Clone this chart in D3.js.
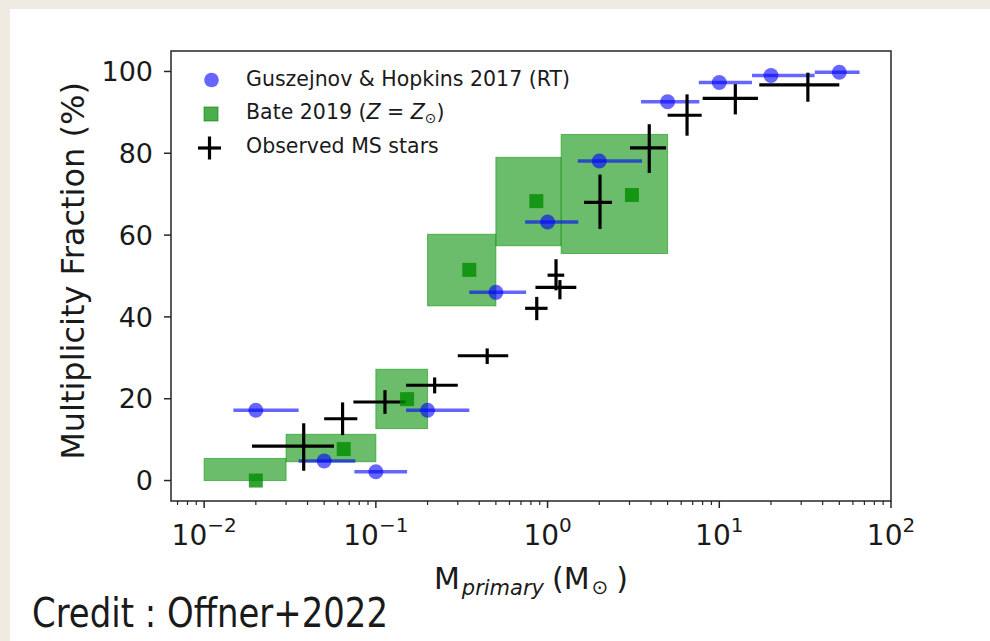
<!DOCTYPE html>
<html>
<head>
<meta charset="utf-8">
<script src="https://cdn.jsdelivr.net/npm/d3@7"></script>
<style>
  html, body { margin: 0; padding: 0; background: #ffffff; }
  svg { display: block; }
  text { font-family: "DejaVu Sans", sans-serif; fill: #1a1a1a; }
</style>
</head>
<body>
<svg id="chart" width="990" height="641"></svg>
<script>
// ---- Guszejnov & Hopkins 2017 (RT): mass bins and multiplicity fraction ----
const ghMass   = [0.02, 0.05, 0.1, 0.2, 0.5, 1.0, 2.0, 5.0, 10, 20, 50];
const ghMassLo = [0.0148, 0.0355, 0.075, 0.15, 0.35, 0.74, 1.5, 3.5, 7.6, 15.5, 36];
const ghMassHi = [0.0355, 0.076, 0.152, 0.35, 0.75, 1.51, 3.55, 7.65, 15.5, 35.9, 65.6];
const ghFrac   = [17.2, 4.8, 2.15, 17.2, 46.0, 63.2, 78.1, 92.6, 97.3, 99.0, 99.8];

// ---- Bate 2019 (Z = Z_sun): mass ranges, fraction ranges and central values ----
const bateMassLo = [0.01, 0.03, 0.1, 0.2, 0.5, 1.2];
const bateMassHi = [0.03, 0.1, 0.2, 0.5, 1.2, 5.0];
const bateFracLo = [0, 4.6, 12.7, 42.7, 57.4, 55.5];
const bateFracHi = [5.4, 11.3, 27.2, 60.2, 79.0, 84.6];
const bateMass   = [0.02, 0.065, 0.152, 0.35, 0.86, 3.1];
const bateFrac   = [0, 7.7, 19.9, 51.5, 68.3, 69.8];

// ---- Observed main-sequence stars ----
const obsMass   = [0.038, 0.064, 0.113, 0.22, 0.445, 0.865, 1.12, 1.18, 2.02, 3.91, 6.49, 12.4, 32.8];
const obsMassLo = [0.019, 0.050, 0.074, 0.15, 0.30, 0.74, 1.0, 0.85, 1.63, 3.02, 5.0, 8.0, 17.1];
const obsMassHi = [0.057, 0.078, 0.149, 0.30, 0.59, 1.0, 1.25, 1.47, 2.37, 4.9, 7.9, 16.8, 50];
const obsFrac   = [8.4, 15.1, 19.2, 23.3, 30.5, 42.1, 50.2, 47.2, 68.0, 81.3, 89.3, 93.4, 96.7];
const obsFracLo = [2.4, 11.1, 16.3, 21.3, 28.5, 39.2, 46.5, 44.3, 61.5, 75.2, 84.3, 89.5, 92.6];
const obsFracHi = [14.0, 19.1, 22.1, 25.2, 32.3, 44.9, 54.1, 49.0, 74.8, 87.1, 94.4, 96.9, 99.7];

// ---- Axis ticks ----
const yTicks = [0, 20, 40, 60, 80, 100];
const xTickExp = [-2, -1, 0, 1, 2];

const svg = d3.select("#chart");

// page backdrop strips
svg.append("rect").attr("x", 0).attr("y", 0).attr("width", 990).attr("height", 9).attr("fill", "#efebe3");
svg.append("rect").attr("x", 0).attr("y", 0).attr("width", 10).attr("height", 641).attr("fill", "#efebe3");

const plot = { left: 171, right: 891, top: 51, bottom: 501 };

const x = d3.scaleLog().domain([Math.pow(10, -2.193), 100]).range([plot.left, plot.right]);
const y = d3.scaleLinear().domain([-5, 105]).range([plot.bottom, plot.top]);

const g = svg.append("g");

// Bate 2019 boxes
const bate = bateMass.map((m, i) => ({
  m, f: bateFrac[i], m0: bateMassLo[i], m1: bateMassHi[i], f0: bateFracLo[i], f1: bateFracHi[i]
}));
g.append("g").selectAll("rect").data(bate).join("rect")
  .attr("x", d => x(d.m0))
  .attr("y", d => y(d.f1))
  .attr("width", d => x(d.m1) - x(d.m0))
  .attr("height", d => y(d.f0) - y(d.f1))
  .attr("fill", "rgb(44,160,44)")
  .attr("fill-opacity", 0.7)
  .attr("stroke", "rgb(20,150,20)")
  .attr("stroke-opacity", 0.6)
  .attr("stroke-width", 1);

// Guszejnov & Hopkins: horizontal bin bars and circles
const gh = ghMass.map((m, i) => ({ m, f: ghFrac[i], m0: ghMassLo[i], m1: ghMassHi[i] }));
const ghG = g.append("g");
ghG.selectAll("line").data(gh).join("line")
  .attr("x1", d => x(d.m0)).attr("x2", d => x(d.m1))
  .attr("y1", d => y(d.f)).attr("y2", d => y(d.f))
  .attr("stroke", "blue").attr("stroke-opacity", 0.6).attr("stroke-width", 3.5);
ghG.selectAll("circle").data(gh).join("circle")
  .attr("cx", d => x(d.m)).attr("cy", d => y(d.f)).attr("r", 7.5)
  .attr("fill", "blue").attr("fill-opacity", 0.6);

// Observed MS stars: error crosses
const obs = obsMass.map((m, i) => ({
  m, f: obsFrac[i], m0: obsMassLo[i], m1: obsMassHi[i], f0: obsFracLo[i], f1: obsFracHi[i]
}));
const obsG = g.append("g").attr("stroke", "#000").attr("stroke-width", 3.2);
obsG.selectAll("line.h").data(obs).join("line").attr("class", "h")
  .attr("x1", d => x(d.m0)).attr("x2", d => x(d.m1))
  .attr("y1", d => y(d.f)).attr("y2", d => y(d.f));
obsG.selectAll("line.v").data(obs).join("line").attr("class", "v")
  .attr("x1", d => x(d.m)).attr("x2", d => x(d.m))
  .attr("y1", d => y(d.f0)).attr("y2", d => y(d.f1));

// Bate 2019 central values
const sq = 14;
g.append("g").selectAll("rect").data(bate).join("rect")
  .attr("x", d => x(d.m) - sq / 2).attr("y", d => y(d.f) - sq / 2)
  .attr("width", sq).attr("height", sq)
  .attr("fill", "rgb(0,140,0)").attr("fill-opacity", 0.8);

// Frame
svg.append("rect")
  .attr("x", plot.left).attr("y", plot.top)
  .attr("width", plot.right - plot.left).attr("height", plot.bottom - plot.top)
  .attr("fill", "none").attr("stroke", "#262626").attr("stroke-width", 1.5);

// Y axis ticks and labels
const yAx = svg.append("g");
yAx.selectAll("line").data(yTicks).join("line")
  .attr("x1", plot.left - 7).attr("x2", plot.left)
  .attr("y1", d => y(d)).attr("y2", d => y(d))
  .attr("stroke", "#262626").attr("stroke-width", 1.5);
yAx.selectAll("text").data(yTicks).join("text")
  .attr("x", plot.left - 18).attr("y", d => y(d))
  .attr("dy", "0.36em").attr("text-anchor", "end")
  .attr("font-size", 27).text(d => d);

// X axis: major and minor log ticks
const xMajor = xTickExp.map(e => Math.pow(10, e));
const xMinor = [];
for (let e = -3; e < 2; e++) {
  for (let k = 2; k <= 9; k++) {
    const v = k * Math.pow(10, e);
    if (v >= x.domain()[0] && v <= x.domain()[1]) xMinor.push(v);
  }
}
const xAx = svg.append("g");
xAx.selectAll("line.minor").data(xMinor).join("line").attr("class", "minor")
  .attr("x1", d => x(d)).attr("x2", d => x(d))
  .attr("y1", plot.bottom).attr("y2", plot.bottom + 4)
  .attr("stroke", "#262626").attr("stroke-width", 1.2);
xAx.selectAll("line.major").data(xMajor).join("line").attr("class", "major")
  .attr("x1", d => x(d)).attr("x2", d => x(d))
  .attr("y1", plot.bottom).attr("y2", plot.bottom + 7)
  .attr("stroke", "#262626").attr("stroke-width", 1.5);
const xl = xAx.selectAll("text").data(xTickExp).join("text")
  .attr("x", e => x(Math.pow(10, e))).attr("y", 545)
  .attr("text-anchor", "middle").attr("font-size", 28);
xl.append("tspan").text("10");
xl.append("tspan").attr("dy", -13).attr("font-size", 20)
  .text(e => (e < 0 ? "\u2212" : "") + Math.abs(e));

// Axis titles
svg.append("text")
  .attr("transform", "translate(84,271) rotate(-90)")
  .attr("text-anchor", "middle").attr("font-size", 32)
  .text("Multiplicity Fraction (%)");

// x title: M_primary (M_sun), laid out as separate pieces side by side
const xtParts = [
  { t: "M", size: 30, dy: 0, italic: false, gap: 2 },
  { t: "primary", size: 21, dy: 6, italic: true, gap: 2 },
  { t: "\u2009(M", size: 30, dy: 0, italic: false, gap: 2 },
  { t: "\u2299", size: 20, dy: 5, italic: false, gap: 2 },
  { t: "\u2009)", size: 30, dy: 0, italic: false, gap: 0 }
];
const xt = svg.append("g");
const xtNodes = xt.selectAll("text").data(xtParts).join("text")
  .attr("y", d => 589 + d.dy)
  .attr("font-size", d => d.size)
  .attr("font-style", d => d.italic ? "italic" : null)
  .text(d => d.t);
let widths = [];
xtNodes.each(function () { widths.push(this.getComputedTextLength()); });
const totalW = d3.sum(widths) + d3.sum(xtParts, d => d.gap);
let cx = 531 - totalW / 2;
xtNodes.attr("x", (d, i) => { const v = cx; cx += widths[i] + d.gap; return v; });

// Legend
const lg = svg.append("g");
lg.append("circle").attr("cx", 211.5).attr("cy", 80).attr("r", 7.3)
  .attr("fill", "blue").attr("fill-opacity", 0.6);
lg.append("rect").attr("x", 211 - 7).attr("y", 114 - 7).attr("width", 14).attr("height", 14)
  .attr("fill", "rgb(44,160,44)").attr("fill-opacity", 0.85)
  .attr("stroke", "green").attr("stroke-opacity", 0.6);
lg.append("line").attr("x1", 198).attr("x2", 221).attr("y1", 148).attr("y2", 148)
  .attr("stroke", "#000").attr("stroke-width", 3.2);
lg.append("line").attr("x1", 209.5).attr("x2", 209.5).attr("y1", 136.5).attr("y2", 159.5)
  .attr("stroke", "#000").attr("stroke-width", 3.2);

lg.append("text").attr("x", 246).attr("y", 79).attr("dy", "0.36em")
  .attr("font-size", 20.5).text("Guszejnov & Hopkins 2017 (RT)");
const bt = lg.append("text").attr("x", 246).attr("y", 112).attr("dy", "0.36em").attr("font-size", 20.5);
bt.append("tspan").text("Bate 2019 (");
bt.append("tspan").attr("font-style", "italic").text("Z");
bt.append("tspan").text(" = ");
bt.append("tspan").attr("font-style", "italic").text("Z");
bt.append("tspan").attr("dy", 4).attr("font-size", 14).text("\u2299");
bt.append("tspan").attr("dy", -4).text(")");
lg.append("text").attr("x", 246).attr("y", 146).attr("dy", "0.36em")
  .attr("font-size", 20.5).text("Observed MS stars");

// Credit line
svg.append("text").attr("x", 32).attr("y", 627)
  .attr("font-family", "Roboto, 'Open Sans', sans-serif")
  .attr("font-size", 40).attr("fill", "#000")
  .attr("textLength", 356).attr("lengthAdjust", "spacingAndGlyphs")
  .text("Credit : Offner+2022");
</script>
</body>
</html>
